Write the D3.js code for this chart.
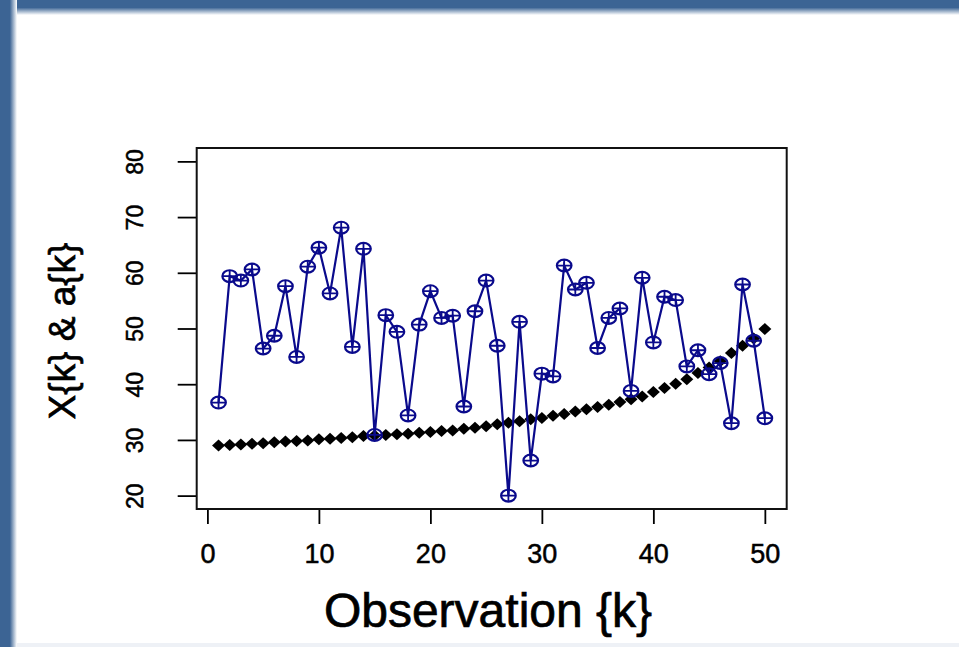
<!DOCTYPE html>
<html>
<head>
<meta charset="utf-8">
<script src="https://cdn.jsdelivr.net/npm/d3@7.9.0/dist/d3.min.js"></script>
<style>
  html, body { margin: 0; padding: 0; background: #fff; }
  svg { display: block; }
  text { font-family: "Liberation Sans", Arial, Helvetica, sans-serif; fill: #000; }
</style>
</head>
<body>
<svg id="chart" width="959" height="647"></svg>
<script>
// observation index k
const obs = d3.range(1, 51);

// a{k} – the noisy blue series
const aValues = [
  36.7, 59.4, 58.6, 60.6, 46.4, 48.7, 57.6, 44.9, 61.1, 64.5,
  56.3, 68.1, 46.7, 64.3, 30.9, 52.4, 49.4, 34.4, 50.7, 56.7,
  51.9, 52.3, 36.0, 53.1, 58.6, 46.9, 20.0, 51.2, 26.3, 41.9,
  41.4, 61.3, 57.0, 58.2, 46.5, 51.9, 53.6, 38.8, 59.1, 47.5,
  55.7, 55.1, 43.2, 46.1, 41.8, 43.8, 33.0, 57.9, 47.8, 33.9
];

// X{k} – the smooth black series
const xValues = [
  29.0, 29.1, 29.2, 29.3, 29.4, 29.6, 29.7, 29.8, 29.9, 30.1,
  30.2, 30.35, 30.5, 30.7, 30.8, 30.9, 31.0, 31.1, 31.3, 31.4,
  31.6, 31.7, 32.0, 32.2, 32.45, 32.8, 33.1, 33.35, 33.7, 33.95,
  34.35, 34.65, 35.1, 35.5, 35.9, 36.3, 36.8, 37.3, 37.8, 38.6,
  39.3, 40.1, 40.9, 42.0, 43.0, 44.1, 45.6, 46.9, 48.2, 49.9
];

const xTicks = [0, 10, 20, 30, 40, 50];
const yTicks = [20, 30, 40, 50, 60, 70, 80];

const svg = d3.select('#chart');

// ---- slide frame (blue band top + left with soft edge) ----
const defs = svg.append('defs');
const gTop = defs.append('linearGradient').attr('id', 'fadeTop')
  .attr('x1', 0).attr('y1', 0).attr('x2', 0).attr('y2', 1);
gTop.append('stop').attr('offset', '0%').attr('stop-color', '#3c6494');
gTop.append('stop').attr('offset', '50%').attr('stop-color', '#3c6494');
gTop.append('stop').attr('offset', '100%').attr('stop-color', '#ffffff');
const gLeft = defs.append('linearGradient').attr('id', 'fadeLeft')
  .attr('x1', 0).attr('y1', 0).attr('x2', 1).attr('y2', 0);
gLeft.append('stop').attr('offset', '0%').attr('stop-color', '#3c6494');
gLeft.append('stop').attr('offset', '58%').attr('stop-color', '#3c6494');
gLeft.append('stop').attr('offset', '100%').attr('stop-color', '#ffffff');

svg.append('rect').attr('x', 0).attr('y', 0).attr('width', 959).attr('height', 15)
  .attr('fill', 'url(#fadeTop)');
svg.append('rect').attr('x', 0).attr('y', 0).attr('width', 17).attr('height', 647)
  .attr('fill', 'url(#fadeLeft)');
svg.append('rect').attr('x', 17).attr('y', 643).attr('width', 942).attr('height', 4)
  .attr('fill', '#eef1f6');

// ---- plot region ----
const box = { left: 196.7, right: 786.7, top: 148, bottom: 509 };

const x = d3.scaleLinear().domain([-0.96, 51.96]).range([box.left, box.right]);
const y = d3.scaleLinear().domain([17.6, 82.4]).range([box.bottom, box.top]);

// y axis
const yAxis = svg.append('g')
  .attr('transform', `translate(${box.left},0)`)
  .call(d3.axisLeft(y).tickValues(yTicks).tickSize(19).tickPadding(0));
yAxis.select('.domain').remove();
yAxis.selectAll('.tick line').attr('stroke', '#000').attr('stroke-width', 1.8);
yAxis.selectAll('.tick text')
  .attr('transform', 'rotate(-90)')
  .attr('x', 0).attr('y', -54).attr('dy', 0)
  .attr('text-anchor', 'middle')
  .attr('stroke', '#000').attr('stroke-width', 0.5)
  .style('font-size', '23px');

// x axis
const xAxis = svg.append('g')
  .attr('transform', `translate(0,${box.bottom})`)
  .call(d3.axisBottom(x).tickValues(xTicks).tickSize(15).tickPadding(0));
xAxis.select('.domain').remove();
xAxis.selectAll('.tick line').attr('stroke', '#000').attr('stroke-width', 1.8);
xAxis.selectAll('.tick text')
  .attr('y', 54).attr('dy', 0)
  .attr('stroke', '#000').attr('stroke-width', 0.5)
  .style('font-size', '27px');

// plot box
svg.append('rect')
  .attr('x', box.left).attr('y', box.top)
  .attr('width', box.right - box.left).attr('height', box.bottom - box.top)
  .attr('fill', 'none').attr('stroke', '#111').attr('stroke-width', 2);

// X{k}: black diamonds
svg.append('g').selectAll('path')
  .data(obs)
  .join('path')
  .attr('transform', (k, i) => `translate(${x(k)},${y(xValues[i])})`)
  .attr('d', 'M0,-6L6.5,0L0,6L-6.5,0Z')
  .attr('fill', '#000');

// a{k}: blue line
const blue = '#0a0a8c';
const line = d3.line().x((d, i) => x(obs[i])).y(d => y(d));
svg.append('path')
  .datum(aValues)
  .attr('d', line)
  .attr('fill', 'none')
  .attr('stroke', blue)
  .attr('stroke-width', 2.2);

// a{k}: circle-plus markers
const marks = svg.append('g').selectAll('g')
  .data(aValues)
  .join('g')
  .attr('transform', (d, i) => `translate(${x(obs[i])},${y(d)})`);
marks.append('ellipse')
  .attr('rx', 7.3).attr('ry', 5.9)
  .attr('fill', 'none').attr('stroke', blue).attr('stroke-width', 2.2);
marks.append('path')
  .attr('d', 'M-7.3,0H7.3M0,-5.9V5.9')
  .attr('stroke', blue).attr('stroke-width', 1.8);

// axis titles
svg.append('text')
  .attr('x', 488).attr('y', 627)
  .attr('text-anchor', 'middle')
  .attr('stroke', '#000').attr('stroke-width', 0.7)
  .style('font-size', '48px')
  .text('Observation {k}');

svg.append('text')
  .attr('transform', 'translate(75,331) rotate(-90)')
  .attr('text-anchor', 'middle')
  .attr('stroke', '#000').attr('stroke-width', 0.7)
  .style('font-size', '37px')
  .text('X{k} & a{k}');
</script>
</body>
</html>
